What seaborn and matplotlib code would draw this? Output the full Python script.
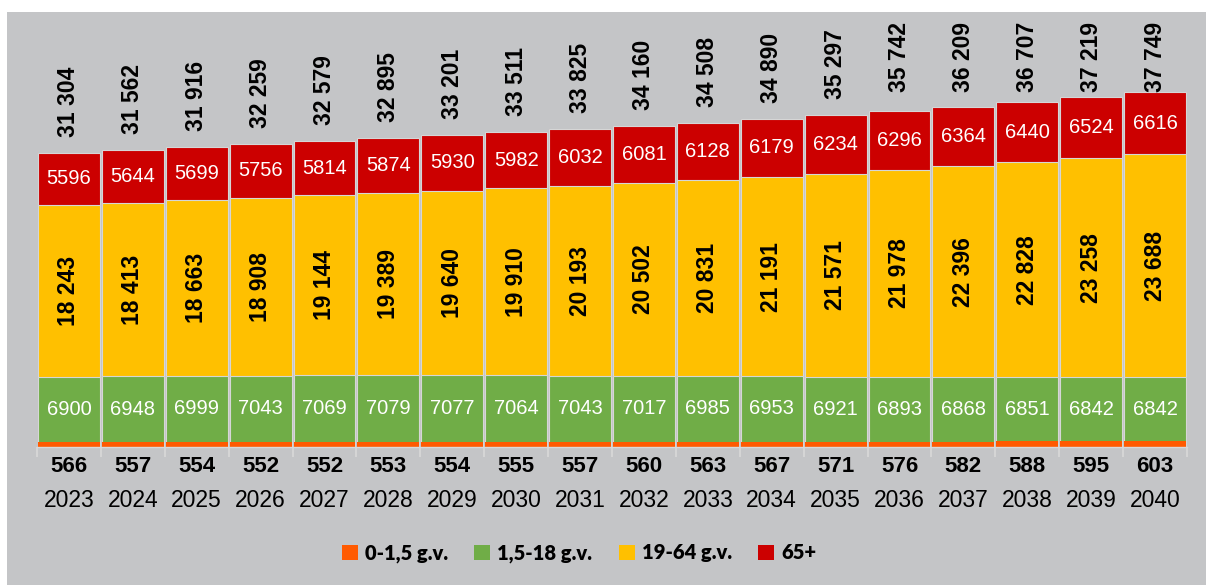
import numpy as np
import pandas as pd
import seaborn as sns
import matplotlib.pyplot as plt
from matplotlib.patches import Rectangle, Patch

sns.set_style('white')
plt.rcParams['font.family'] = ['Liberation Sans', 'DejaVu Sans']
plt.rcParams['text.color'] = 'black'

years = [str(y) for y in range(2023, 2041)]
infants = [566, 557, 554, 552, 552, 553, 554, 555, 557, 560, 563, 567, 571, 576, 582, 588, 595, 603]
children = [6900, 6948, 6999, 7043, 7069, 7079, 7077, 7064, 7043, 7017, 6985, 6953, 6921, 6893, 6868, 6851, 6842, 6842]
adults = [18243, 18413, 18663, 18908, 19144, 19389, 19640, 19910, 20193, 20502, 20831, 21191, 21571, 21978, 22396, 22828, 23258, 23688]
seniors = [5596, 5644, 5699, 5756, 5814, 5874, 5930, 5982, 6032, 6081, 6128, 6179, 6234, 6296, 6364, 6440, 6524, 6616]
totals = [31304, 31562, 31916, 32259, 32579, 32895, 33201, 33511, 33825, 34160, 34508, 34890, 35297, 35742, 36209, 36707, 37219, 37749]

groups = ['0-1,5 g.v.', '1,5-18 g.v.', '19-64 g.v.', '65+']
colors = ['#FF5A00', '#70AD47', '#FFC000', '#CC0000']


def fmt(v):
    return f'{v:,}'.replace(',', ' ')


df = pd.DataFrame({'year': years, 'inf': infants, 'chi': children,
                   'adu': adults, 'sen': seniors})
# cumulative heights for stacking (draw tallest first)
df['c1'] = df['inf']
df['c2'] = df['c1'] + df['chi']
df['c3'] = df['c2'] + df['adu']
df['c4'] = df['c3'] + df['sen']

fig = plt.figure(figsize=(12.06, 5.85), dpi=100)
fig.patch.set_facecolor('white')
fig.patches.append(Rectangle((7 / 1206, 0), 1, (585 - 12) / 585,
                             transform=fig.transFigure, facecolor='#C4C5C7',
                             edgecolor='none', zorder=-5))

ax = fig.add_axes([37 / 1206, (585 - 447) / 585, 1150 / 1206, 425 / 585])
ax.set_facecolor('none')
ax.set_zorder(2)

for col, c in zip(['c4', 'c3', 'c2'], colors[:0:-1]):
    sns.barplot(data=df, x='year', y=col, order=years, color=c, width=0.97,
                edgecolor='#D6D6D6', linewidth=0.8, saturation=1, ax=ax)
sns.barplot(data=df, x='year', y='c1', order=years, color=colors[0], width=0.97,
            edgecolor='none', linewidth=0, saturation=1, ax=ax)

ymax = 45200
ax.set_ylim(0, ymax)
ax.set_xlim(-0.5, len(years) - 0.5)

# inner labels
for i in range(len(years)):
    c1, c2, c3, c4 = df.loc[i, ['c1', 'c2', 'c3', 'c4']]
    ax.text(i, (c1 + c2) / 2, str(children[i]), ha='center', va='center',
            color='white', fontsize=14.5)
    ax.text(i, (c2 + c3) / 2, fmt(adults[i]), ha='center', va='center',
            color='black', fontsize=16.5, fontweight='bold', rotation=90)
    ax.text(i, (c3 + c4) / 2, str(seniors[i]), ha='center', va='center',
            color='white', fontsize=14.5)
    # totals above bar, pushed down when they would leave the plot
    y = c4 + 1700
    if y + 7800 > ymax:
        ax.text(i, ymax, fmt(totals[i]), ha='center', va='top',
                fontsize=16.5, fontweight='bold', rotation=90)
    else:
        ax.text(i, y, fmt(totals[i]), ha='center', va='bottom',
                fontsize=16.5, fontweight='bold', rotation=90)
    ax.text(i, -0.047, str(infants[i]), transform=ax.get_xaxis_transform(),
            ha='center', va='center', fontsize=16, fontweight='bold')
    ax.text(i, -0.127, years[i], transform=ax.get_xaxis_transform(),
            ha='center', va='center', fontsize=16.5)

ax.set_xlabel('')
ax.set_ylabel('')
ax.set_yticks([])
ax.set_xticks(np.arange(-0.5, len(years)), minor=True)
ax.set_xticks([])
ax.tick_params(axis='x', which='minor', length=7, width=1.2, color='#D9D9D9',
               direction='out', bottom=True)
for s in ['top', 'right', 'left']:
    ax.spines[s].set_visible(False)
ax.spines['bottom'].set_color('#D9D9D9')
ax.spines['bottom'].set_linewidth(1.0)

handles = [Patch(facecolor=c, edgecolor='none') for c in colors]
leg = fig.legend(handles, groups, loc='center', bbox_to_anchor=(579 / 1206, 1 - 553 / 585),
                 ncol=4, frameon=False, handlelength=0.8, handleheight=0.8,
                 handletextpad=0.35, columnspacing=1.3,
                 prop={'family': ['Lato', 'DejaVu Sans'], 'weight': 'heavy', 'size': 14.5})
for t in leg.get_texts():
    t.set_color('black')

fig.savefig('out.png', dpi=100, facecolor=fig.get_facecolor())
